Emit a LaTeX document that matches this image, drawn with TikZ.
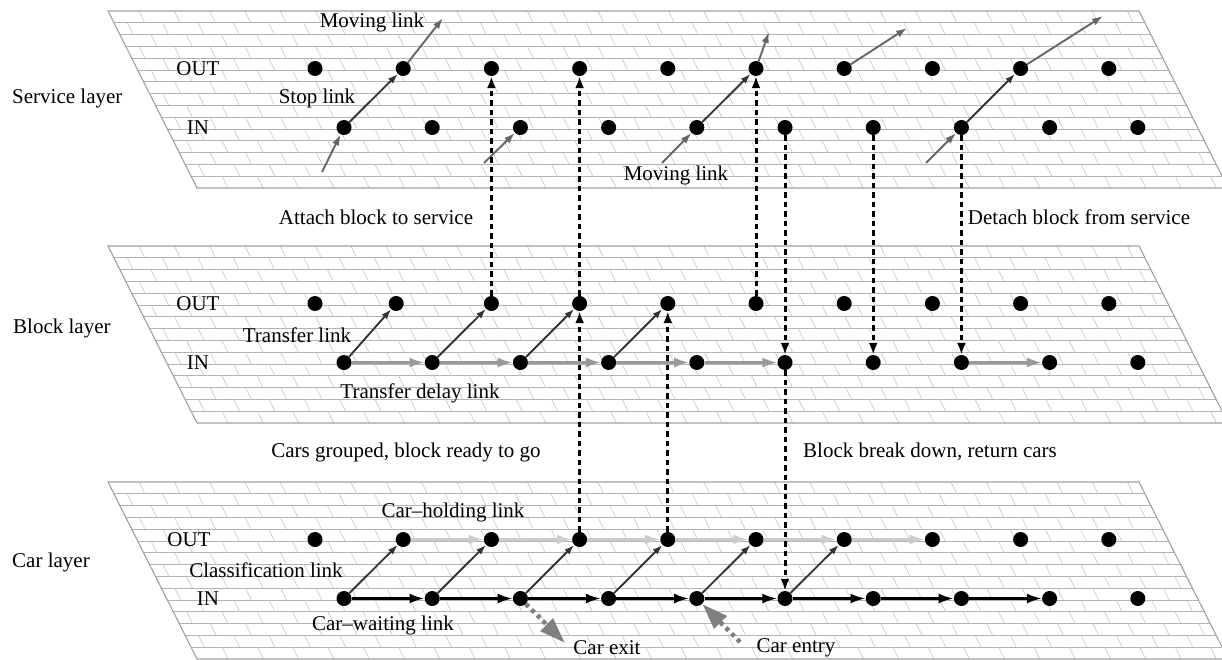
\documentclass[tikz,border=0pt]{standalone}
\usepackage{fontspec}
\setmainfont{Liberation Serif}
\usetikzlibrary{arrows.meta}
\definecolor{gridcolor}{HTML}{B4B4B4}
\definecolor{jointcolor}{HTML}{C4C4C4}
\definecolor{edgecolor}{HTML}{A0A0A0}
\definecolor{stopcolor}{HTML}{333333}
\definecolor{movecolor}{HTML}{666666}
\definecolor{delaycolor}{HTML}{999999}
\definecolor{holdcolor}{HTML}{CCCCCC}
\definecolor{flowcolor}{HTML}{808080}

% one slanted brick plane, top edge at y=#1
\newcommand{\drawlayer}[1]{%
  \begin{scope}[shift={(108,#1)}, xslant=-0.503]
    \foreach \j in {1,...,14}
      \draw[gridcolor, line width=0.8pt] (0,{\j*11.8}) -- (1031,{\j*11.8});
    \foreach \j in {0,...,14}
      \foreach \k in {0,...,28} {
        \pgfmathsetmacro{\u}{13.35+17.65*(1-mod(\j,2))+35.3*\k}
        \draw[jointcolor, line width=0.6pt] (\u,{\j*11.8}) -- (\u,{(\j+1)*11.8});
      }
    \draw[edgecolor, line width=1.1pt] (0,0) -- (1031,0) -- (1031,177) -- (0,177) -- cycle;
  \end{scope}}

\begin{document}
\begin{tikzpicture}[
        x=1pt,
        y=-1pt,
        lbl/.style={font=\fontsize{21}{25}\selectfont, inner sep=0pt},
        dot/.style={circle, fill=black, inner sep=0pt, minimum size=15pt},
        stoplink/.style={-{Latex[length=10pt,width=7pt]}, line width=1.9pt, stopcolor},
        movelink/.style={-{Latex[length=11pt,width=7.5pt]}, line width=1.9pt, movecolor},
        delaylink/.style={-{Latex[length=15pt,width=10pt]}, line width=2.7pt, delaycolor},
        waitlink/.style={-{Latex[length=15pt,width=10pt]}, line width=2.5pt, black},
        holdlink/.style={-{Latex[length=15pt,width=10pt]}, line width=2.7pt, holdcolor},
        layerlink/.style={-{Latex[length=12pt,width=9pt]}, line width=3pt, black,
            dash pattern=on 5.5pt off 4pt},
        flowlink/.style={-{Triangle[length=26pt,width=17pt]}, line width=4.5pt, flowcolor,
            dash pattern=on 4pt off 4pt}
    ]
        \useasboundingbox (0,0) rectangle (1222,660);

        \drawlayer{11}
        \drawlayer{246}
        \drawlayer{482}

        \node[lbl, anchor=west] (servicelbl) at (12,98) {Service layer};
        \node[lbl, anchor=west] (blocklbl) at (13,328) {Block layer};
        \node[lbl, anchor=west] (carlbl) at (12,562) {Car layer};

        \node[lbl] (sout) at (198,68.5) {OUT};
        \node[lbl] (sin) at (198,127.5) {IN};
        \node[lbl] (bout) at (198,303.5) {OUT};
        \node[lbl] (bin) at (198,362.5) {IN};
        \node[lbl] (cout) at (189,539.5) {OUT};
        \node[lbl] (cin) at (208,598.5) {IN};

        % dots of the three layers
        \foreach \k in {0,...,9} {
            \node[dot] (sO\k) at ({315+88.2*\k},68.5) {};
            \node[dot] (sI\k) at ({344+88.2*\k},127.5) {};
            \node[dot] (bO\k) at ({315+88.2*\k-7*equal(\k,1)},303.5) {};
            \node[dot] (bI\k) at ({344+88.2*\k},362.5) {};
            \node[dot] (cO\k) at ({315+88.2*\k},539.5) {};
            \node[dot] (cI\k) at ({344+88.2*\k},598.5) {};
        }

        % service layer
        \coordinate (mvzero) at (322,172);
        \coordinate (mvone) at (443,18);
        \coordinate (mvtwo) at (484,163);
        \coordinate (mvthree) at (662,163);
        \coordinate (mvfour) at (769,32);
        \coordinate (mvfive) at (907,28);
        \coordinate (mvsix) at (926,163);
        \coordinate (mvseven) at (1103,16);

        \draw[movelink] (mvzero) -- (sI0);
        \draw[stoplink] (sI0) -- (sO1);
        \draw[movelink] (sO1) -- (mvone);
        \draw[movelink] (mvtwo) -- (sI2);
        \draw[movelink] (mvthree) -- (sI4);
        \draw[stoplink] (sI4) -- (sO5);
        \draw[movelink] (sO5) -- (mvfour);
        \draw[movelink] (sO6) -- (mvfive);
        \draw[movelink] (mvsix) -- (sI7);
        \draw[stoplink] (sI7) -- (sO8);
        \draw[movelink] (sO8) -- (mvseven);

        \node[lbl] (movinglbl) at (372,22) {Moving link};
        \node[lbl] (stoplbl) at (317,98) {Stop link};
        \node[lbl] (movinglbltwo) at (676,175) {Moving link};

        % block layer
        \foreach \a/\b in {0/1,1/2,2/3,3/4}
            \draw[stoplink] (bI\a) -- (bO\b);
        \foreach \a/\b in {0/1,1/2,2/3,3/4,4/5,7/8}
            \draw[delaylink] (bI\a) -- (bI\b);

        \node[lbl] (transferlbl) at (297,335) {Transfer link};
        \node[lbl] (delaylbl) at (420,393) {Transfer delay link};

        % car layer
        \foreach \a/\b in {0/1,1/2,2/3,3/4,4/5,5/6}
            \draw[stoplink] (cI\a) -- (cO\b);
        \foreach \a/\b in {0/1,1/2,2/3,3/4,4/5,5/6,6/7,7/8}
            \draw[waitlink] (cI\a) -- (cI\b);
        \foreach \a/\b in {1/2,2/3,3/4,4/5,5/6,6/7}
            \draw[holdlink] (cO\a) -- (cO\b);

        \coordinate (exitend) at (565,643);
        \coordinate (entrystart) at (740,642);
        \draw[flowlink] (cI2) -- (exitend);
        \draw[flowlink] (entrystart) -- (cI4);

        \node[lbl] (holdlbl) at (453,512) {Car--holding link};
        \node[lbl] (classlbl) at (266,570) {Classification link};
        \node[lbl] (waitlbl) at (383,625) {Car--waiting link};
        \node[lbl] (exitlbl) at (607,648) {Car exit};
        \node[lbl] (entrylbl) at (796,648) {Car entry};

        % links between layers
        \draw[layerlink] (bO2) -- (sO2);
        \draw[layerlink] (cO3) -- (bO3);
        \draw[layerlink] (bO3) -- (sO3);
        \draw[layerlink] (cO4) -- (bO4);
        \draw[layerlink] (bO5) -- (sO5);
        \draw[layerlink] (sI5) -- (bI5);
        \draw[layerlink] (bI5) -- (cI5);
        \draw[layerlink] (sI6) -- (bI6);
        \draw[layerlink] (sI7) -- (bI7);

        \node[lbl] (attachlbl) at (376,217) {Attach block to service};
        \node[lbl] (detachlbl) at (1079,217) {Detach block from service};
        \node[lbl] (groupedlbl) at (406,452) {Cars grouped, block ready to go};
        \node[lbl] (breaklbl) at (930,452) {Block break down, return cars};
    \end{tikzpicture}
\end{document}
